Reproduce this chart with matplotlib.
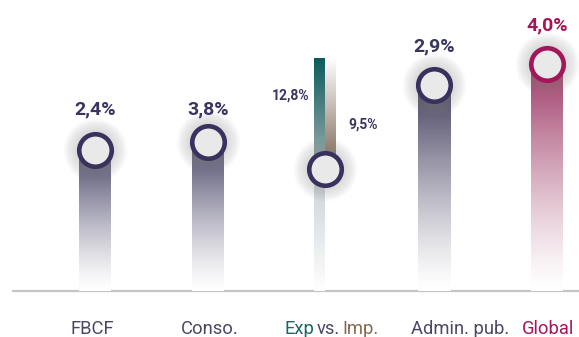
import numpy as np
import matplotlib
matplotlib.use("Agg")
import matplotlib.pyplot as plt
from matplotlib.colors import to_rgb

# ---------------- data ----------------
categories = ["FBCF", "Conso.", "Exp vs. Imp.", "Admin. pub.", "Global"]
value_labels = ["2,4%", "3,8%", None, "2,9%", "4,0%"]
levels = [14.1, 14.9, 12.2, 20.6, 22.7]          # marker (circle) height, arbitrary index
exp_level, imp_level = 23.3, 23.3                # top of Exp / Imp columns
exp_label, imp_label = "12,8%", "9,5%"

# ---------------- style ----------------
NAVY = "#3a3560"
RING = "#39325f"
MAGENTA = "#a3175a"
TEAL = "#1d6566"
BROWN = "#86684f"
LABEL_GRAY = "#4a4766"
bar_top_colors = ["#4a4768", "#4a4768", None, "#44405f", "#9e3a66"]
ring_colors = [RING, RING, RING, RING, MAGENTA]
label_colors = [NAVY, NAVY, NAVY, NAVY, MAGENTA]

plt.rcParams['font.family'] = ['Roboto', 'DejaVu Sans']

W, H, DPI = 579, 337, 100
fig = plt.figure(figsize=(W / DPI, H / DPI), dpi=DPI)
ax = fig.add_axes([0, 0, 1, 1])
ax.set_axis_off()
spacing = 113.0
x0 = 95.4
ax.set_xlim(-x0 / spacing, (W - x0) / spacing)
ax.set_ylim(-(H - 291) / 10.0, 291 / 10.0)

px = 1.0 / spacing     # one pixel in x data units
xs = np.arange(len(categories), dtype=float)


def gradient(ax, x_left, x_right, y_bottom, y_top, c_bottom, c_top, z=2, gamma=1.0):
    n = 256
    t = np.linspace(0, 1, n)[:, None] ** gamma
    cb = np.array(to_rgb(c_bottom))
    ct = np.array(to_rgb(c_top))
    rgb = cb[None, :] * (1 - t) + ct[None, :] * t
    img = rgb[:, None, :]
    ax.imshow(img, extent=(x_left, x_right, y_bottom, y_top), origin='lower',
              aspect='auto', interpolation='bilinear', zorder=z)


# baseline
ax.plot([xs[0] - 83 * px, ax.get_xlim()[1]], [0, 0], color="#c4c4c4", lw=1.6, zorder=1,
        solid_capstyle='butt')

bar_w = 32 * px
for i, x in enumerate(xs):
    if i == 2:
        continue
    gradient(ax, x - bar_w / 2, x + bar_w / 2, 0, levels[i], "#ffffff", bar_top_colors[i], z=2,
             gamma=1.3)

# Exp vs Imp
xe = xs[2] + 4 * px
half = 11 * px
gradient(ax, xe - half, xe, levels[2], exp_level, "#9fb1b2", "#0d5b5c", z=2)
gradient(ax, xe, xe + half, levels[2], imp_level, "#7a6452", "#ffffff", z=2)
gradient(ax, xe - half, xe, 0, levels[2], "#ffffff", "#c6ced2", z=2)

# circles with glow
circ_x = [xs[0], xs[1], xe, xs[3], xs[4]]
pt = 0.72
for i in range(len(categories)):
    cx, cy = circ_x[i], levels[i]
    for k in range(16):
        d = (64 - k * 1.8) * pt
        ax.scatter([cx], [cy], s=d ** 2, color="#9a9a9a", alpha=0.022, lw=0, zorder=3)
    ax.scatter([cx], [cy], s=(32.5 * pt) ** 2, facecolor="#e9e9ea", edgecolor=ring_colors[i],
               linewidth=4.6 * pt, zorder=4)

# value labels
label_offsets = [41, 33, 0, 39, 39]  # pixels above circle
for i in range(len(categories)):
    if value_labels[i] is None:
        continue
    ax.annotate(value_labels[i], (circ_x[i], levels[i]), xytext=(0, label_offsets[i] * pt),
                textcoords='offset points', ha='center', va='center', fontsize=14,
                fontweight='bold', color=label_colors[i], zorder=5)

ax.annotate(exp_label, (xe, exp_level), xytext=(-35 * pt, -38 * pt), textcoords='offset points',
            ha='center', va='center', fontsize=10, fontweight='bold', color=NAVY)
ax.annotate(imp_label, (xe, exp_level), xytext=(38 * pt, -67 * pt), textcoords='offset points',
            ha='center', va='center', fontsize=10, fontweight='bold', color=NAVY)

# category labels
cat_y = -(329 - 291) / 10.0
cat_dx = [-3, 1, 0, 26, 1]   # pixel nudges
FS = 13.2
for i, name in enumerate(categories):
    if i == 2:
        continue
    col = MAGENTA if name == "Global" else LABEL_GRAY
    ax.annotate(name, (xs[i], cat_y), xytext=(cat_dx[i] * pt, 0), textcoords='offset points',
                ha='center', va='center', fontsize=FS, color=col)

# multicolor "Exp vs. Imp."
parts = categories[2].split(" ")
ax.annotate(parts[1], (xs[2], cat_y), xytext=(7 * pt, 0), textcoords='offset points',
            ha='center', va='center', fontsize=FS, color=LABEL_GRAY)
ax.annotate(parts[0], (xs[2], cat_y), xytext=(-7 * pt, 0), textcoords='offset points',
            ha='right', va='center', fontsize=FS, color=TEAL)
ax.annotate(parts[2], (xs[2], cat_y), xytext=(21 * pt, 0), textcoords='offset points',
            ha='left', va='center', fontsize=FS, color=BROWN)

fig.savefig("out.png", dpi=DPI)
